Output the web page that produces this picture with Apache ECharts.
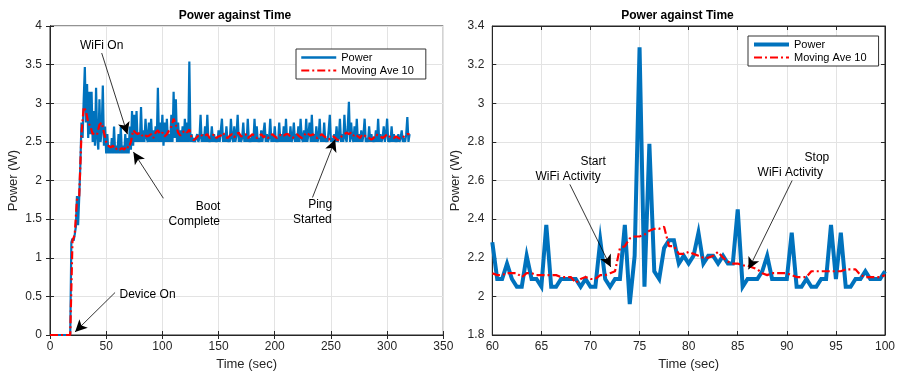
<!DOCTYPE html>
<html><head><meta charset="utf-8">
<script src="https://cdn.jsdelivr.net/npm/echarts@6/dist/echarts.min.js"></script>
<style>html,body{margin:0;padding:0;background:#fff}#c{width:898px;height:376px}</style>
</head><body><div id="c"></div>
<script>
// ---------- DATA ----------
const titleText = 'Power against Time';
const xName = 'Time (sec)';
const yName = 'Power (W)';
const seriesNames = ['Power', 'Moving Ave 10'];

// Left plot: power sampled every 1 s from t = 0
const leftStart = 0, leftStep = 1;
const leftPower = [
  0,0,0,0,0,0,0,0,0,0,
  0,0,0,0,0,0,0,0,0,1.2,
  1.25,1.22,1.3,1.4,1.8,1.42,1.78,2.2,2.75,2.55,
  3.05,3.47,2.75,3.25,2.55,3.15,2.6,3.15,2.5,2.9,
  2.45,3.2,2.55,2.4,3.05,2.5,2.65,3.23,2.45,2.7,
  2.35,2.6,2.35,2.45,2.35,2.55,2.35,2.7,2.35,2.45,
  2.35,2.6,2.35,2.7,2.35,2.45,2.35,2.6,2.35,2.55,
  2.35,2.7,2.4,2.9,2.45,2.85,2.5,2.9,2.5,2.6,
  2.5,2.95,2.5,2.65,2.5,2.8,2.55,2.5,2.75,2.5,
  2.8,2.5,2.65,2.5,2.7,2.5,3.2,2.5,2.75,2.5,
  2.85,2.45,2.75,2.5,2.8,2.5,2.6,2.5,2.85,2.5,
  3.15,2.55,3.05,2.5,2.75,2.5,2.65,2.5,2.7,2.5,
  2.8,2.5,2.75,2.5,3.54,2.5,2.6,2.5,2.55,2.5,
  2.5,2.6,2.5,2.55,2.85,2.5,2.6,2.5,2.7,2.5,
  2.85,2.5,2.55,2.5,2.7,2.5,2.6,2.5,2.55,2.5,
  2.65,2.5,2.5,2.8,2.5,2.6,2.5,2.7,2.5,2.55,
  2.5,2.8,2.55,2.5,2.7,2.5,2.6,2.85,2.5,2.6,
  2.5,2.55,2.75,2.5,2.6,2.5,2.8,2.5,2.55,2.5,
  2.6,2.5,2.8,2.5,2.7,2.5,2.55,2.5,2.65,2.5,
  2.5,2.75,2.5,2.6,2.5,2.55,2.8,2.5,2.6,2.5,
  2.7,2.5,2.55,2.5,2.75,2.5,2.6,2.5,2.7,2.5,
  2.8,2.5,2.6,2.5,2.7,2.5,2.55,2.75,2.5,2.6,
  2.5,2.7,2.5,2.8,2.55,2.5,2.65,2.5,2.8,2.5,
  2.6,2.75,2.5,2.85,2.5,2.6,2.5,2.7,2.5,2.55,
  2.8,2.5,2.6,2.5,2.75,2.5,2.55,2.5,2.65,2.85,
  2.5,2.55,2.5,2.6,2.5,2.7,2.5,2.55,2.8,2.5,
  2.6,2.5,2.85,2.55,2.5,2.7,3.02,2.5,2.75,2.55,
  2.5,2.7,2.5,2.8,2.5,2.6,2.5,2.65,2.5,2.6,
  2.8,2.5,2.55,2.5,2.7,2.5,2.6,2.5,2.55,2.5,
  2.65,2.5,2.8,2.5,2.6,2.5,2.55,2.7,2.5,2.6,
  2.8,2.5,2.55,2.5,2.7,2.5,2.6,2.5,2.55,2.5,
  2.6,2.5,2.55,2.65,2.5,2.55,2.5,2.6,2.82,2.5,
  2.6
];
// Left plot: moving average read every 2 s from t = 0
const leftAvgStart = 0, leftAvgStep = 2;
const leftAvg = [
  0,0,0,0,0,0,0,0,0,0,
  1.22,1.3,1.75,1.8,2.6,2.95,2.9,2.75,2.7,2.6,
  2.62,2.6,2.72,2.75,2.62,2.5,2.45,2.43,2.45,2.4,
  2.42,2.4,2.42,2.4,2.45,2.42,2.5,2.65,2.62,2.6,
  2.62,2.58,2.6,2.57,2.58,2.6,2.55,2.62,2.65,2.6,
  2.62,2.57,2.6,2.65,2.7,2.8,2.72,2.62,2.58,2.62,
  2.65,2.62,2.66,2.55,2.52,2.55,2.58,2.6,2.57,2.58,
  2.6,2.55,2.57,2.6,2.55,2.57,2.58,2.62,2.57,2.55,
  2.58,2.6,2.56,2.6,2.62,2.57,2.58,2.6,2.55,2.57,
  2.6,2.58,2.55,2.57,2.6,2.56,2.58,2.55,2.58,2.6,
  2.57,2.55,2.58,2.6,2.58,2.6,2.6,2.57,2.55,2.58,
  2.6,2.57,2.55,2.58,2.62,2.6,2.58,2.6,2.56,2.55,
  2.58,2.6,2.57,2.55,2.53,2.55,2.57,2.55,2.52,2.55,
  2.58,2.6,2.62,2.6,2.62,2.58,2.6,2.57,2.55,2.6,
  2.58,2.56,2.55,2.53,2.55,2.6,2.58,2.57,2.55,2.57,
  2.6,2.57,2.56,2.55,2.57,2.55,2.54,2.56,2.58,2.6,
  2.6
];

// Right plot: samples every 0.5 s from t = 60
const rightStart = 60, rightStep = 0.5;
const rightPower = [
  2.28,2.09,2.09,2.17,2.09,2.05,2.05,2.21,2.09,2.09,
  2.05,2.37,2.05,2.05,2.09,2.09,2.09,2.09,2.05,2.09,
  2.05,2.05,2.29,2.09,2.05,2.09,2.09,2.37,1.96,2.21,
  3.29,2.05,2.79,2.13,2.09,2.25,2.29,2.29,2.17,2.21,
  2.17,2.21,2.33,2.17,2.21,2.21,2.17,2.21,2.17,2.17,
  2.45,2.05,2.09,2.09,2.09,2.13,2.21,2.09,2.09,2.09,
  2.09,2.33,2.05,2.05,2.09,2.05,2.05,2.09,2.09,2.37,
  2.09,2.33,2.05,2.05,2.09,2.09,2.13,2.09,2.09,2.09,
  2.13
];
const rightAvg = [
  2.12,2.11,2.11,2.12,2.12,2.12,2.10,2.12,2.12,2.11,
  2.11,2.11,2.11,2.11,2.10,2.10,2.10,2.07,2.09,2.10,
  2.09,2.09,2.11,2.11,2.12,2.13,2.25,2.26,2.30,2.31,
  2.31,2.32,2.34,2.35,2.35,2.36,2.26,2.26,2.22,2.22,
  2.23,2.22,2.21,2.20,2.20,2.21,2.23,2.20,2.18,2.17,
  2.17,2.16,2.16,2.15,2.14,2.12,2.11,2.12,2.12,2.12,
  2.12,2.11,2.10,2.10,2.10,2.13,2.13,2.13,2.13,2.13,
  2.13,2.13,2.14,2.14,2.14,2.11,2.10,2.10,2.10,2.10,
  2.11
];

// Axis ranges / tick intervals
const leftX = [0, 350, 50], leftY = [0, 4, 0.5];
const rightX = [60, 100, 5], rightY = [1.8, 3.4, 0.2];

// Annotations (data coordinates)
const leftNotes = [
  ['WiFi On', 46.0, 3.75], ['Boot', 140.7, 1.667], ['Complete', 128.4, 1.47],
  ['Ping', 240.4, 1.684], ['Started', 233.5, 1.49], ['Device On', 86.8, 0.528]
];
const leftArrows = [
  [[46, 3.65], [68.9, 2.6]],
  [[100.9, 1.77], [74.2, 2.37]],
  [[233.6, 1.78], [253.8, 2.53]],
  [[57.9, 0.55], [22.3, 0.04]]
];
const rightNotes = [
  ['Start', 70.27, 2.698], ['WiFi Activity', 67.73, 2.619],
  ['Stop', 93.07, 2.72], ['WiFi Activity', 90.35, 2.642]
];
const rightArrows = [
  [[67.9, 2.58], [72.07, 2.152]],
  [[90.54, 2.60], [86.1, 2.14]]
];

// ---------- BUILD ----------
const FONT = "'Liberation Sans', Arial, Helvetica, sans-serif";
const AX = '#262626';
const BLUE = '#0072BD', RED = '#FF0000';
const DASHDOT = [8, 3, 2, 3];

function pairs(start, step, arr) { return arr.map((v, i) => [start + i * step, v]); }

const grids = [
  { left: 50, right: 454.7, top: 26, bottom: 39.3, show: true, borderColor: AX, borderWidth: 1, backgroundColor: '#fff' },
  { left: 492.3, right: 12.3, top: 26, bottom: 39.3, show: true, borderColor: AX, borderWidth: 1, backgroundColor: '#fff' }
];

function xAxes(gi, r) {
  return [{
    type: 'value', gridIndex: gi, min: r[0], max: r[1], interval: r[2],
    name: xName, nameLocation: 'middle', nameGap: 23,
    nameTextStyle: { fontSize: 13, color: AX, fontFamily: FONT },
    axisLine: { show: true, lineStyle: { color: AX, width: 1 } },
    axisTick: { show: true, inside: true, length: 4, lineStyle: { color: AX } },
    axisLabel: { fontSize: 12, color: AX, fontFamily: FONT, margin: 6 },
    splitLine: { show: true, lineStyle: { color: '#e3e3e3', width: 1 } }
  }, {
    type: 'value', gridIndex: gi, position: 'top', min: r[0], max: r[1], interval: r[2],
    axisLine: { show: true, lineStyle: { color: AX, width: 1 } },
    axisTick: { show: true, inside: true, length: 4, lineStyle: { color: AX } },
    axisLabel: { show: false }, splitLine: { show: false }
  }];
}
function yAxes(gi, r) {
  return [{
    type: 'value', gridIndex: gi, min: r[0], max: r[1], interval: r[2],
    name: yName, nameLocation: 'middle', nameGap: 30,
    nameTextStyle: { fontSize: 13, color: AX, fontFamily: FONT },
    axisLine: { show: true, lineStyle: { color: AX, width: 1 } },
    axisTick: { show: true, inside: true, length: 4, lineStyle: { color: AX } },
    axisLabel: { fontSize: 12, color: AX, fontFamily: FONT, margin: 8 },
    splitLine: { show: true, lineStyle: { color: '#e3e3e3', width: 1 } }
  }, {
    type: 'value', gridIndex: gi, position: 'right', min: r[0], max: r[1], interval: r[2],
    axisLine: { show: true, lineStyle: { color: AX, width: 1 } },
    axisTick: { show: true, inside: true, length: 4, lineStyle: { color: AX } },
    axisLabel: { show: false }, splitLine: { show: false }
  }];
}

function annotSeries(name, xi, yi, notes, arrows) {
  return {
    type: 'line', name: name, xAxisIndex: xi, yAxisIndex: yi, data: [], silent: true,
    markLine: {
      silent: true, symbol: ['none', 'arrow'], symbolSize: [9, 12], animation: false,
      label: { show: false },
      lineStyle: { color: '#000', width: 0.8, type: 'solid' },
      emphasis: { disabled: true },
      data: arrows.map(a => [{ coord: a[0] }, { coord: a[1] }])
    },
    markPoint: {
      silent: true, symbol: 'circle', symbolSize: 0, animation: false,
      label: { show: true, position: 'inside', color: '#000', fontSize: 12, fontFamily: FONT },
      data: notes.map(n => ({ coord: [n[1], n[2]], value: n[0], label: { formatter: n[0] } }))
    }
  };
}

const series = [
  { name: seriesNames[0], type: 'line', xAxisIndex: 0, yAxisIndex: 0, showSymbol: false, symbol: 'none',
    data: pairs(leftStart, leftStep, leftPower), lineStyle: { color: BLUE, width: 2.2 }, itemStyle: { color: BLUE }, z: 2 },
  { name: seriesNames[1], type: 'line', xAxisIndex: 0, yAxisIndex: 0, showSymbol: false, symbol: 'none',
    data: pairs(leftAvgStart, leftAvgStep, leftAvg), lineStyle: { color: RED, width: 2.2, type: DASHDOT }, itemStyle: { color: RED }, z: 3 },
  { name: seriesNames[0], type: 'line', xAxisIndex: 2, yAxisIndex: 2, showSymbol: false, symbol: 'none',
    data: pairs(rightStart, rightStep, rightPower), lineStyle: { color: BLUE, width: 4, join: 'miter' }, itemStyle: { color: BLUE }, z: 2 },
  { name: seriesNames[1], type: 'line', xAxisIndex: 2, yAxisIndex: 2, showSymbol: false, symbol: 'none',
    data: pairs(rightStart, rightStep, rightAvg), lineStyle: { color: RED, width: 2.2, type: DASHDOT }, itemStyle: { color: RED }, z: 3 },
  annotSeries('annotL', 0, 0, leftNotes, leftArrows),
  annotSeries('annotR', 2, 2, rightNotes, rightArrows)
];

function legend(left, top, blueW) {
  return {
    show: true, orient: 'vertical', left: left, top: top, itemWidth: 35, itemHeight: 12, itemGap: 2,
    padding: [3, 12, 3, 4], borderColor: '#333', borderWidth: 1, backgroundColor: '#fff',
    selectedMode: false,
    itemStyle: { opacity: 0 },
    textStyle: { fontSize: 11, color: '#000', fontFamily: FONT },
    data: [
      { name: seriesNames[0], lineStyle: { width: blueW } },
      { name: seriesNames[1] }
    ]
  };
}

const chart = echarts.init(document.getElementById('c'), null, { renderer: 'canvas' });
chart.setOption({
  animation: false,
  backgroundColor: '#fff',
  textStyle: { fontFamily: FONT },
  grid: grids,
  xAxis: [...xAxes(0, leftX), ...xAxes(1, rightX)],
  yAxis: [...yAxes(0, leftY), ...yAxes(1, rightY)],
  legend: [legend(296, 49, 2.5), legend(748, 36, 4)],
  graphic: [
    { type: 'text', x: 235, y: 16, style: { text: titleText, fontSize: 12, fontWeight: 'bold', fontFamily: FONT, fill: '#000', textAlign: 'center', textVerticalAlign: 'middle' } },
    { type: 'text', x: 677.5, y: 16, style: { text: titleText, fontSize: 12, fontWeight: 'bold', fontFamily: FONT, fill: '#000', textAlign: 'center', textVerticalAlign: 'middle' } }
  ],
  series: series
});
</script></body></html>
